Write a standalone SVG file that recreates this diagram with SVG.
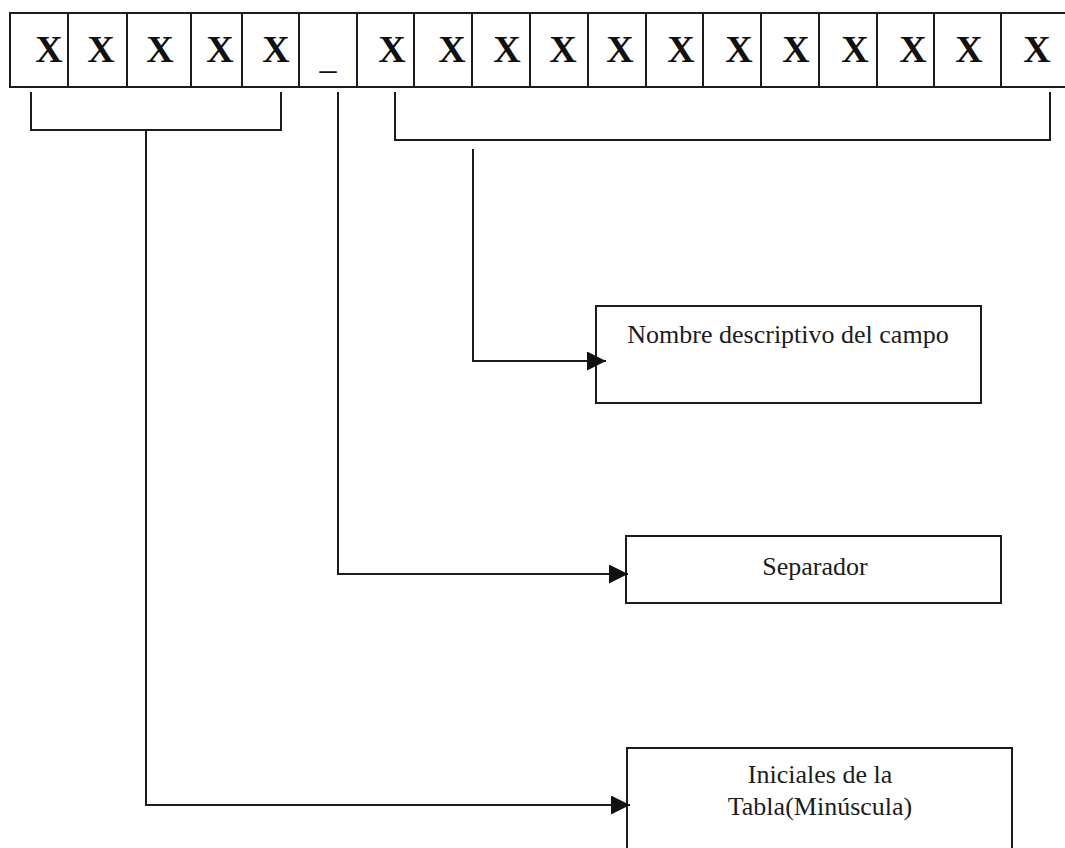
<svg xmlns="http://www.w3.org/2000/svg" width="1065" height="848" viewBox="0 0 1065 848">
<style>
.ln{fill:none;stroke:#1c1c1c;stroke-width:2}
.box{fill:#fff;stroke:#1c1c1c;stroke-width:2}
.x{font-family:"Liberation Serif",serif;font-weight:bold;font-size:38px;fill:#111;text-anchor:middle}
.lbl{font-family:"Liberation Serif",serif;font-size:26px;fill:#1c1c1c;text-anchor:middle}
</style>
<defs>
<marker id="ah" markerUnits="userSpaceOnUse" markerWidth="20" markerHeight="20" refX="19" refY="9.5" orient="auto">
<path d="M0,0 L19,9.5 L0,19 z" fill="#111"/>
</marker>
</defs>
<rect width="1065" height="848" fill="#fff"/>
<g id="cells">
<rect class="box" x="10" y="13" width="1060" height="74"/>
<path class="ln" d="M68,13V87M127,13V87M191,13V87M242,13V87M299,13V87M357,13V87M414,13V87M472,13V87M530,13V87M588,13V87M646,13V87M703,13V87M761,13V87M819,13V87M877,13V87M934,13V87M1001,13V87"/>
<text class="x" x="49" y="62">X</text>
<text class="x" x="101" y="62">X</text>
<text class="x" x="160" y="62">X</text>
<text class="x" x="220" y="62">X</text>
<text class="x" x="276" y="62">X</text>
<text x="328" y="69" font-family="Liberation Serif,serif" font-size="34" fill="#111" text-anchor="middle">_</text>
<text class="x" x="392" y="62">X</text>
<text class="x" x="452" y="62">X</text>
<text class="x" x="507" y="62">X</text>
<text class="x" x="563" y="62">X</text>
<text class="x" x="620" y="62">X</text>
<text class="x" x="681" y="62">X</text>
<text class="x" x="739" y="62">X</text>
<text class="x" x="796" y="62">X</text>
<text class="x" x="855" y="62">X</text>
<text class="x" x="913" y="62">X</text>
<text class="x" x="969" y="62">X</text>
<text class="x" x="1037" y="62">X</text>
</g>
<g id="nombre">
<rect class="box" x="596" y="306" width="385" height="97"/>
<text class="lbl" x="788" y="343">Nombre descriptivo del campo</text>
</g>
<g id="separador">
<rect class="box" x="626" y="536" width="375" height="67"/>
<text class="lbl" x="815" y="575">Separador</text>
</g>
<g id="iniciales">
<rect class="box" x="627" y="748" width="385" height="130"/>
<text class="lbl" x="820" y="783">Iniciales de la</text>
<text class="lbl" x="820" y="815">Tabla(Minúscula)</text>
</g>
<g id="connectors">
<path class="ln" d="M31,92V130H281V92"/>
<path class="ln" d="M395,92V140H1050V92"/>
<path class="ln" d="M146,130V805H630" marker-end="url(#ah)"/>
<path class="ln" d="M338,92V574H628" marker-end="url(#ah)"/>
<path class="ln" d="M473,149V361H606" marker-end="url(#ah)"/>
</g>
</svg>
